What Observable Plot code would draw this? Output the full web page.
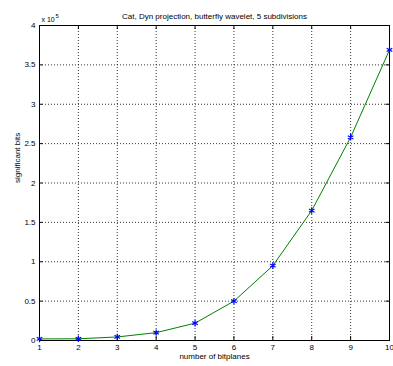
<!DOCTYPE html>
<html>
<head>
<meta charset="utf-8">
<script src="https://cdn.jsdelivr.net/npm/d3@7"></script>
<script src="https://cdn.jsdelivr.net/npm/@observablehq/plot@0.6"></script>
<style>
  html, body { margin: 0; padding: 0; background: #fff; }
  svg { display: block; }
</style>
</head>
<body>
<div id="chart"></div>
<script>
const bitplanes = [1, 2, 3, 4, 5, 6, 7, 8, 9, 10];
const significantBits = [2000, 2200, 4500, 10000, 22000, 50000, 95000, 165000, 258000, 369000];
const xTicks = [1, 2, 3, 4, 5, 6, 7, 8, 9, 10];
const yTicks = [0, 50000, 100000, 150000, 200000, 250000, 300000, 350000, 400000];
const titleText = "Cat, Dyn projection, butterfly wavelet, 5 subdivisions";
const xLabel = "number of bitplanes";
const yLabel = "significant bits";

const data = bitplanes.map((b, i) => ({b, v: significantBits[i]}));
const font = "Liberation Sans, Arial, Helvetica, sans-serif";

const chart = Plot.plot({
  width: 393,
  height: 366,
  marginLeft: 39,
  marginRight: 4,
  marginTop: 25,
  marginBottom: 26,
  style: {fontFamily: font, fontSize: "8px", background: "#fff", color: "#000"},
  x: {domain: [1, 10], ticks: xTicks},
  y: {domain: [0, 400000], ticks: yTicks},
  marks: [
    Plot.ruleX(xTicks.slice(1, -1), {x: d => d, stroke: "#000", strokeOpacity: 0.8, strokeDasharray: "1,2", strokeWidth: 1}),
    Plot.ruleY(yTicks.slice(1, -1), {y: d => d, stroke: "#000", strokeOpacity: 0.8, strokeDasharray: "1,2", strokeWidth: 1}),
    Plot.axisX(xTicks, {tickSize: 0, tickPadding: 4, label: null, fontSize: 8}),
    Plot.axisY(yTicks, {tickSize: 0, tickPadding: 4, label: null, fontSize: 8, tickFormat: d => String(d / 1e5)}),
    Plot.ruleX(xTicks, {x: d => d, y1: 0, y2: 5000, stroke: "#000"}),
    Plot.ruleX(xTicks, {x: d => d, y1: 400000, y2: 395000, stroke: "#000"}),
    Plot.ruleY(yTicks, {y: d => d, x1: 1, x2: 1.09, stroke: "#000"}),
    Plot.ruleY(yTicks, {y: d => d, x1: 10, x2: 9.91, stroke: "#000"}),
    Plot.frame({stroke: "#000", strokeWidth: 1}),
    Plot.line(data, {x: "b", y: "v", stroke: "#008000", strokeWidth: 1}),
    Plot.dot(data, {x: "b", y: "v", symbol: "asterisk", stroke: "#0000ff", r: 3, strokeWidth: 1.2}),
    Plot.text([titleText], {frameAnchor: "top", dy: -12, text: d => d, fontSize: 8}),
    Plot.text([xLabel], {frameAnchor: "bottom", dy: 18, text: d => d, fontSize: 8}),
    Plot.text([yLabel], {frameAnchor: "left", dx: -22, rotate: -90, text: d => d, fontSize: 8}),
    Plot.text(["x 10"], {frameAnchor: "top-left", dy: -8, dx: 2, text: d => d, textAnchor: "start", fontSize: 7}),
    Plot.text(["5"], {frameAnchor: "top-left", dy: -12, dx: 16, text: d => d, textAnchor: "start", fontSize: 6})
  ]
});
document.getElementById("chart").appendChild(chart);
</script>
</body>
</html>
